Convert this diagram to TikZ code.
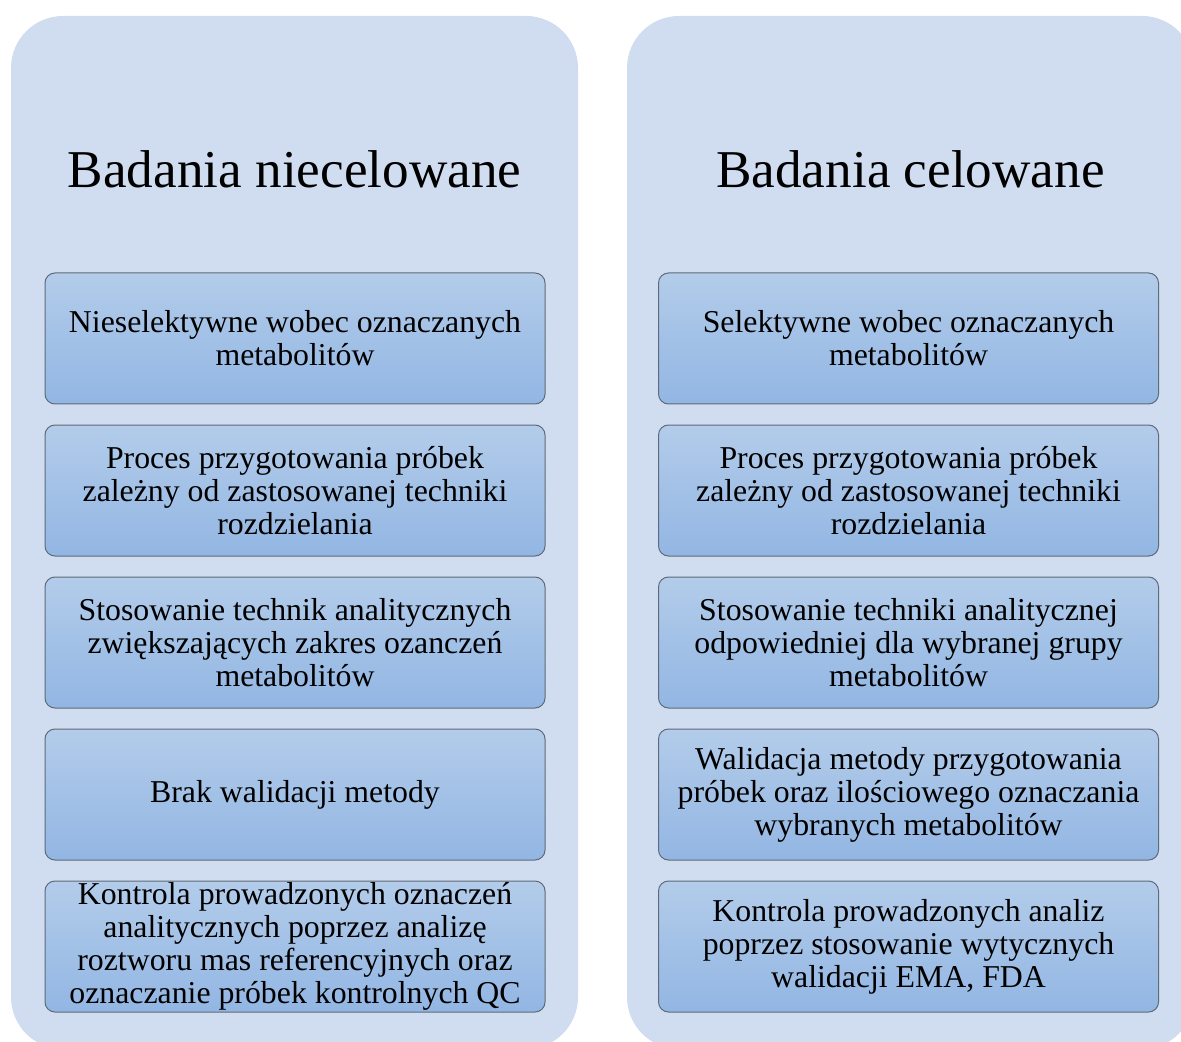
\documentclass[tikz,border=0pt]{standalone}
\usepackage{fontspec}
\setmainfont{Liberation Serif}

\definecolor{tlo}{RGB}{208,220,239}
\definecolor{gora}{RGB}{179,204,234}
\definecolor{dol}{RGB}{146,182,227}
\definecolor{ramka}{RGB}{96,106,120}

\tikzset{
  kolumna/.style={fill=tlo, rounded corners=26pt, minimum width=283.5pt,
    minimum height=516.5pt, inner sep=0pt},
  tytul/.style={font=\fontsize{26.6}{30}\selectfont},
  pole/.style={draw=ramka, line width=0.5pt, rounded corners=5pt,
    top color=gora, bottom color=dol, minimum width=250pt,
    minimum height=65.5pt, inner sep=0pt, align=center,
    font=\fontsize{15.9}{16.5}\selectfont}
}

\begin{document}
\begin{tikzpicture}[x=0.5pt, y=-0.5pt]
  \useasboundingbox (0,0) rectangle (1181,1042);
  \clip (0,0) rectangle (1181,1042);
  % Kolumny
  \node[kolumna] (lewa)  at (294.5,532.5) {};
  \node[kolumna] (prawa) at (910.5,532.5) {};
  % Naglowki
  \node[tytul] (tlewy)  at (294.5,169) {Badania niecelowane};
  \node[tytul] (tprawy) at (910.5,169) {Badania celowane};
  % Pola - badania niecelowane
  \node[pole] (l1) at (295,338.5) {Nieselektywne wobec oznaczanych\\metabolitów};
  \node[pole] (l2) at (295,490.5) {Proces przygotowania próbek\\zależny od zastosowanej techniki\\rozdzielania};
  \node[pole] (l3) at (295,642.5) {Stosowanie technik analitycznych\\zwiększających zakres ozanczeń\\metabolitów};
  \node[pole] (l4) at (295,794.5) {Brak walidacji metody};
  \node[pole] (l5) at (295,946.5) {Kontrola prowadzonych oznaczeń\\analitycznych poprzez analizę\\roztworu mas referencyjnych oraz\\oznaczanie próbek kontrolnych QC};
  % Pola - badania celowane
  \node[pole] (p1) at (908.5,338.5) {Selektywne wobec oznaczanych\\metabolitów};
  \node[pole] (p2) at (908.5,490.5) {Proces przygotowania próbek\\zależny od zastosowanej techniki\\rozdzielania};
  \node[pole] (p3) at (908.5,642.5) {Stosowanie techniki analitycznej\\odpowiedniej dla wybranej grupy\\metabolitów};
  \node[pole] (p4) at (908.5,794.5) {Walidacja metody przygotowania\\próbek oraz ilościowego oznaczania\\wybranych metabolitów};
  \node[pole] (p5) at (908.5,946.5) {Kontrola prowadzonych analiz\\poprzez stosowanie wytycznych\\walidacji EMA, FDA};
\end{tikzpicture}
\end{document}
